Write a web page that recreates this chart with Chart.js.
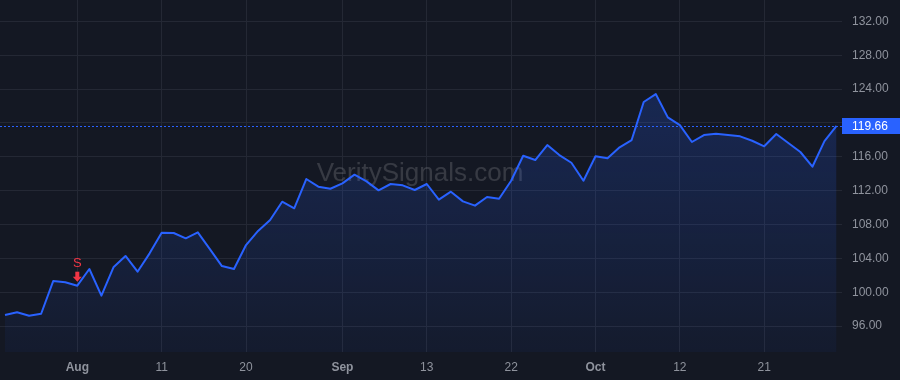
<!DOCTYPE html>
<html lang="en">
<head>
    <meta charset="UTF-8">
    <title>VeritySignals price chart</title>
    <style>
        html, body {
            margin: 0;
            padding: 0;
            background-color: #141823;
        }
        #wrap {
            width: 900px;
            height: 380px;
        }
    </style>
</head>
<body>
    <div id="wrap"><canvas id="priceChart" width="900" height="380"></canvas></div>

    <script src="https://cdn.jsdelivr.net/npm/chart.js"></script>
    <script>
        // daily closes, one per trading day
        const closes = [
            97.32, 97.64, 97.24, 97.47, 101.33, 101.18, 100.78, 102.75, 99.6, 102.95,
            104.29, 102.43, 104.6, 107.04, 107.0, 106.37, 107.08, 105.1, 103.1, 102.75,
            105.58, 107.25, 108.54, 110.7, 109.92, 113.38, 112.47, 112.23, 112.87, 113.89,
            113.1, 112.04, 112.79, 112.63, 112.08, 112.79, 110.94, 111.88, 110.74, 110.23,
            111.25, 111.05, 113.18, 116.13, 115.62, 117.39, 116.21, 115.3, 113.18, 116.06,
            115.82, 117.12, 117.98, 122.47, 123.41, 120.66, 119.75, 117.75, 118.57, 118.73,
            118.57, 118.42, 117.9, 117.24, 118.69, 117.63, 116.57, 114.83, 117.86, 119.66
        ];

        // x axis labels and the bar index they sit on
        const tickLabels = ['Aug', '11', '20', 'Sep', '13', '22', 'Oct', '12', '21'];
        const tickIndex = [6, 13, 20, 28, 35, 42, 49, 56, 63];

        // price axis
        const priceTicks = [96, 100, 104, 108, 112, 116, 120, 124, 128, 132];

        // signal markers
        const signalIndex = [6];
        const signalText = ['S'];

        const lastPrice = closes[closes.length - 1];
        const lineColor = '#2962ff';
        const textColor = '#8f939d';
        const gridColor = '#242834';
        const fontFamily = '"Liberation Sans", Arial, sans-serif';

        const watermark = {
            id: 'watermark',
            beforeDatasetsDraw(chart) {
                const { ctx } = chart;
                ctx.save();
                ctx.font = '26px ' + fontFamily;
                ctx.fillStyle = 'rgba(255, 255, 255, 0.15)';
                ctx.textAlign = 'center';
                ctx.textBaseline = 'alphabetic';
                ctx.fillText('VeritySignals.com', 420, 181);
                ctx.restore();
            }
        };

        const priceLine = {
            id: 'priceLine',
            afterDatasetsDraw(chart) {
                const { ctx, chartArea } = chart;
                const y = Math.round(chart.scales.y.getPixelForValue(lastPrice)) + 0.5;
                ctx.save();
                ctx.strokeStyle = lineColor;
                ctx.lineWidth = 1;
                ctx.setLineDash([2, 2]);
                ctx.beginPath();
                ctx.moveTo(chartArea.left, y);
                ctx.lineTo(chartArea.right, y);
                ctx.stroke();
                ctx.setLineDash([]);

                // label on the price axis
                ctx.fillStyle = lineColor;
                ctx.fillRect(chartArea.right, y - 8.5, chart.width - chartArea.right, 16);
                ctx.fillStyle = '#ffffff';
                ctx.font = '12px ' + fontFamily;
                ctx.textBaseline = 'middle';
                ctx.textAlign = 'left';
                ctx.fillText(lastPrice.toFixed(2), chartArea.right + 10, y);

                // signal markers
                const xs = chart.scales.x;
                const ys = chart.scales.y;
                ctx.fillStyle = '#f23645';
                signalIndex.forEach((idx, k) => {
                    const px = xs.getPixelForValue(idx);
                    const py = ys.getPixelForValue(closes[idx]);
                    const tip = py - 4;
                    ctx.beginPath();
                    ctx.moveTo(px - 4.5, tip - 5);
                    ctx.lineTo(px + 4.5, tip - 5);
                    ctx.lineTo(px, tip);
                    ctx.closePath();
                    ctx.fill();
                    ctx.fillRect(px - 2, tip - 10, 4, 5.5);
                    ctx.font = '13px ' + fontFamily;
                    ctx.textAlign = 'center';
                    ctx.textBaseline = 'middle';
                    ctx.fillText(signalText[k], px, tip - 18);
                });
                ctx.restore();
            }
        };

        const ctx = document.getElementById('priceChart').getContext('2d');
        new Chart(ctx, {
            type: 'line',
            data: {
                datasets: [{
                    data: closes.map((v, i) => ({ x: i, y: v })),
                    borderColor: lineColor,
                    borderWidth: 2,
                    borderJoinStyle: 'round',
                    pointRadius: 0,
                    tension: 0,
                    fill: 'start',
                    backgroundColor: (context) => {
                        const area = context.chart.chartArea;
                        if (!area) return 'rgba(41, 98, 255, 0.15)';
                        const g = context.chart.ctx.createLinearGradient(0, 90, 0, area.bottom);
                        g.addColorStop(0, 'rgba(41, 98, 255, 0.22)');
                        g.addColorStop(1, 'rgba(41, 98, 255, 0.05)');
                        return g;
                    }
                }]
            },
            options: {
                responsive: false,
                animation: false,
                layout: { padding: 0, autoPadding: false },
                plugins: {
                    legend: { display: false },
                    tooltip: { enabled: false }
                },
                scales: {
                    x: {
                        type: 'linear',
                        min: -0.415,
                        max: 69.455,
                        border: { display: false },
                        grid: { color: gridColor, drawTicks: false },
                        afterBuildTicks: (scale) => {
                            scale.ticks = tickIndex.map(v => ({ value: v }));
                        },
                        afterFit: (scale) => {
                            scale.height = 28;
                            scale.paddingLeft = 0;
                            scale.paddingRight = 0;
                        },
                        ticks: {
                            padding: 8,
                            autoSkip: false,
                            maxRotation: 0,
                            color: textColor,
                            font: (c) => {
                                const i = tickIndex.indexOf(c.tick ? c.tick.value : -1);
                                const isMonth = i >= 0 && isNaN(Number(tickLabels[i]));
                                return { family: fontFamily, size: 12, weight: isMonth ? 'bold' : 'normal' };
                            },
                            callback: (value) => {
                                const i = tickIndex.indexOf(value);
                                return i >= 0 ? tickLabels[i] : '';
                            }
                        }
                    },
                    y: {
                        type: 'linear',
                        position: 'right',
                        min: 92.95,
                        max: 134.52,
                        border: { display: false },
                        grid: { color: gridColor, drawTicks: false },
                        afterBuildTicks: (scale) => {
                            scale.ticks = priceTicks.map(v => ({ value: v }));
                        },
                        afterFit: (scale) => {
                            scale.width = 58;
                            scale.paddingTop = 0;
                            scale.paddingBottom = 0;
                        },
                        ticks: {
                            padding: 10,
                            color: textColor,
                            font: { family: fontFamily, size: 12 },
                            callback: (value) => Math.abs(value - lastPrice) < 1.5 ? '' : value.toFixed(2)
                        }
                    }
                }
            },
            plugins: [watermark, priceLine]
        });
    </script>
</body>
</html>
